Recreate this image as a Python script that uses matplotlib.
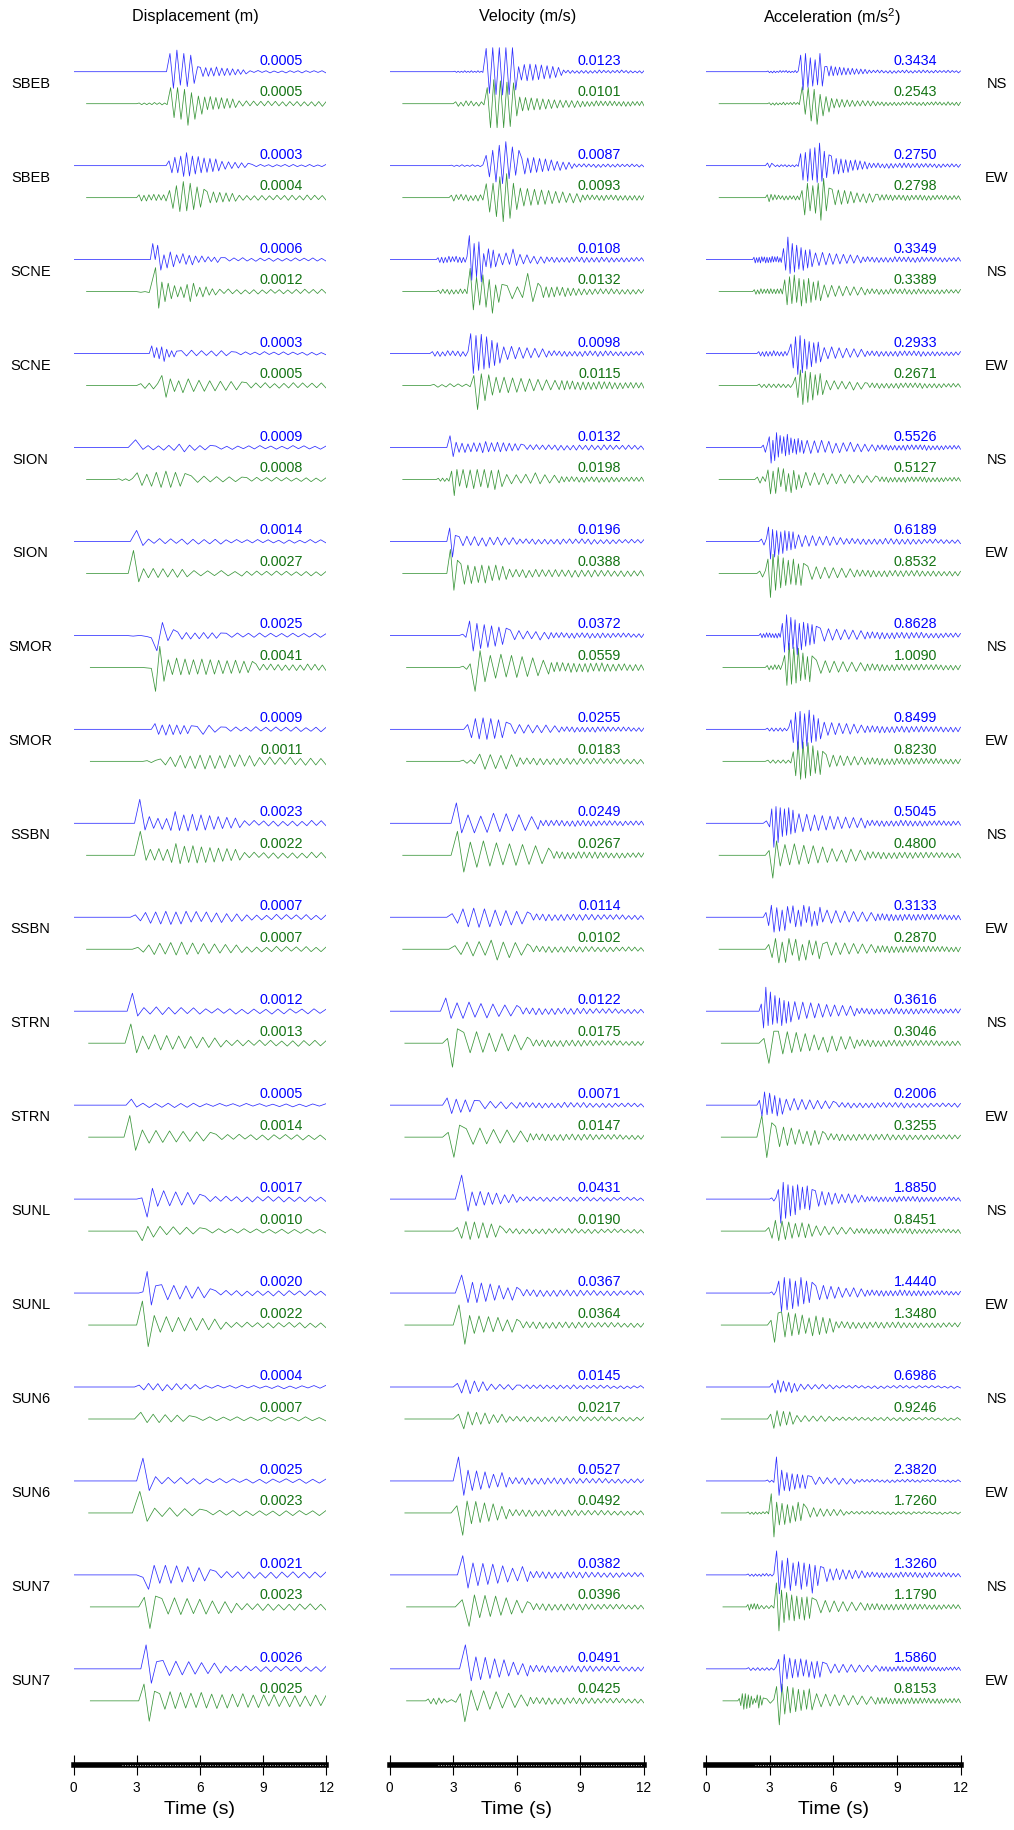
#!/usr/bin/env python3
"""
Observed (blue) vs synthetic (green) ground motion, 9 stations x 2 components.
Columns: displacement, velocity, acceleration. Peak value printed per trace.
"""
import numpy as np
import matplotlib.pyplot as plt

plt.rcParams['font.family'] = ['Liberation Sans', 'DejaVu Sans']
plt.rcParams['mathtext.default'] = 'regular'

STATIONS = ['SBEB', 'SBEB', 'SCNE', 'SCNE', 'SION', 'SION', 'SMOR', 'SMOR', 'SSBN',
            'SSBN', 'STRN', 'STRN', 'SUNL', 'SUNL', 'SUN6', 'SUN6', 'SUN7', 'SUN7']
COMPONENTS = ['NS', 'EW'] * 9
TITLES = ['Displacement (m)', 'Velocity (m/s)', 'Acceleration (m/s$^2$)']
TICKS = [0, 3, 6, 9, 12]

# synthetic traces start a little after t = 0
SYN_START = [0.62, 0.62, 0.62, 0.62, 0.62, 0.62, 0.8, 0.8, 0.62,
             0.62, 0.72, 0.72, 0.72, 0.72, 0.72, 0.72, 0.8, 0.8]

DISP_OBS_PEAK = [0.0005, 0.0003, 0.0006, 0.0003, 0.0009, 0.0014, 0.0025, 0.0009, 0.0023,
                 0.0007, 0.0012, 0.0005, 0.0017, 0.0020, 0.0004, 0.0025, 0.0021, 0.0026]
DISP_SYN_PEAK = [0.0005, 0.0004, 0.0012, 0.0005, 0.0008, 0.0027, 0.0041, 0.0011, 0.0022,
                 0.0007, 0.0013, 0.0014, 0.0010, 0.0022, 0.0007, 0.0023, 0.0023, 0.0025]
VEL_OBS_PEAK = [0.0123, 0.0087, 0.0108, 0.0098, 0.0132, 0.0196, 0.0372, 0.0255, 0.0249,
                0.0114, 0.0122, 0.0071, 0.0431, 0.0367, 0.0145, 0.0527, 0.0382, 0.0491]
VEL_SYN_PEAK = [0.0101, 0.0093, 0.0132, 0.0115, 0.0198, 0.0388, 0.0559, 0.0183, 0.0267,
                0.0102, 0.0175, 0.0147, 0.0190, 0.0364, 0.0217, 0.0492, 0.0396, 0.0425]
ACC_OBS_PEAK = [0.3434, 0.2750, 0.3349, 0.2933, 0.5526, 0.6189, 0.8628, 0.8499, 0.5045,
                0.3133, 0.3616, 0.2006, 1.8850, 1.4440, 0.6986, 2.3820, 1.3260, 1.5860]
ACC_SYN_PEAK = [0.2543, 0.2798, 0.3389, 0.2671, 0.5127, 0.8532, 1.0090, 0.8230, 0.4800,
                0.2870, 0.3046, 0.3255, 0.8451, 1.3480, 0.9246, 1.7260, 1.1790, 0.8153]

# Trace specs: "onset | t_end: extrema | t_end: extrema ...".
# Extrema are % of the station's plotted full scale; each segment's values are spread
# evenly up to t_end and alternate in sign, starting with the sign of the first value.
DISP_OBS = [
    "4.42 | 5.9: 76 69 90 56 76 62 69 49 21 | 8.2: 18 20 17 19 16 18 20 17 15 16 14 15 12 13 10 11 8 9 | 12: 4 3 5 3 4 5 3 4 3 5 4 3 4 5 4 3 4 3 4 5",
    "4.4 | 6.9: 20 30 35 30 40 45 54 43 40 35 38 30 32 28 30 25 28 22 | 8.3: 18 15 16 12 14 10 12 8 10 | 12: 5 4 5 3 4 5 4 3 5 4 5 4 3 4 5 4 3 4 5",
    "3.65 | 4.0: 67 0 60 | 7.0: -44 20 35 32 30 20 15 25 20 18 22 15 12 15 10 12 8 10 12 8 | 12: 8 6 7 5 8 6 5 7 6 5 6 7 5 6 5 6 7 5 6 5 7 6 5 6",
    "3.6 | 4.9: 32 17 25 22 28 33 18 15 12 14 10 | 7.5: 12 10 14 9 12 8 11 10 12 9 8 | 12: 6 5 7 4 6 5 8 4 6 5 7 5 6 4 5 7 5 6 4 5",
    "2.6 | 3.3: 32 8 | 6.5: 8 10 7 11 9 12 14 18 10 12 8 10 9 | 12: 6 7 5 8 6 5 7 6 8 5 6 7 5 6 8 5 7 6 5 7 6",
    "2.7 | 3.3: 46 17 | 7.0: 10 8 12 9 11 8 10 12 9 11 8 10 9 11 | 12: 7 6 8 5 7 6 8 5 7 6 5 8 6 7 5 6 8 6 7 6",
    "2.5 | 3.5: -3 0 5 | 3.7: -10 | 4.75: -64 54 22 24 | 7.0: 14 16 12 15 10 14 12 13 11 12 10 | 12: 9 8 10 7 9 8 10 7 9 6 8 7 9 6 8 7 9 8 7",
    "3.7 | 5.6: 24 21 18 24 20 22 18 20 16 18 15 | 7.0: 12 21 17 12 10 | 12: 9 8 10 7 9 8 11 7 9 8 10 7 9 8 10 9 7 8 9 10 8",
    "2.9 | 3.4: 100 28 | 7.9: 28 21 21 25 20 30 49 30 35 32 38 30 35 28 32 25 28 22 25 20 22 18 | 12: 11 9 12 8 10 11 9 12 8 10 9 11 8 10 12 9 11 10",
    "2.7 | 8.0: 10 15 20 25 22 28 25 30 22 28 25 20 24 18 22 20 18 22 15 18 14 16 | 12: 10 12 9 11 8 10 12 9 11 8 10 9 11 10 8 10 9",
    "2.55 | 3.05: 75 20 | 6.0: 15 12 18 14 16 12 15 10 14 12 | 12: 10 8 11 9 10 12 8 11 9 10 8 12 9 11 10 8 9 11 10 9 8",
    "2.5 | 3.0: 25 8 | 6.0: 8 10 7 9 8 10 7 9 8 7 | 12: 6 5 7 4 6 5 7 4 6 5 4 6 5 7 4 6 5 4 6",
    "3.0 | 3.25: 5 | 4.0: -75 45 30 | 6.0: 35 28 30 25 28 22 20 | 12: 12 10 11 9 12 8 10 11 9 12 10 8 11 9 10 12 8 10 9 11 10 9 8 10",
    "3.1 | 3.3: 5 | 3.9: 90 50 30 | 6.5: 35 28 32 25 30 22 26 20 18 | 12: 10 8 11 9 10 12 8 11 9 10 8 12 9 11 10 8 9 11 10 9 8 10",
    "2.9 | 6.0: 8 12 15 12 14 16 10 12 14 10 12 9 11 8 | 12: 6 5 7 4 6 5 7 4 6 5 4 6 5 7 4 6 5 4 6 5 7",
    "3.0 | 3.6: 95 40 | 6.0: 18 12 15 10 14 12 10 13 | 12: 9 7 10 8 9 6 8 9 7 10 8 6 9 7 8 10 7 9 8",
    "3.0 | 3.3: -10 | 4.1: -60 40 35 | 6.5: 40 35 38 30 35 28 30 25 22 | 12: 15 12 14 11 13 15 12 14 10 13 11 14 12 10 13 12 11 13 12 10 12",
    "3.2 | 3.95: 100 60 30 | 7.0: 35 28 32 25 30 22 26 20 24 18 | 12: 12 10 11 9 12 8 10 11 9 12 10 8 11 9 10 12 8 10 9 11 10",
]
DISP_SYN = [
    "3.0 | 4.45: 3 4 3 4 3 4 5 3 4 5 3 4 | 6.1: 67 58 67 65 60 90 46 65 32 44 | 7.7: 28 25 30 24 26 22 25 20 22 18 20 16 | 12: 12 10 12 9 11 8 10 9 11 8 10 9 8 10 9 8 9 10 8 9 8 10 9 11 8",
    "3.0 | 4.4: 12 14 10 14 12 10 14 12 13 10 12 14 | 6.2: 30 45 50 58 67 55 60 50 45 40 35 | 7.7: 25 22 24 20 22 18 20 16 18 15 | 12: 10 11 9 10 8 11 9 10 8 9 10 8 9 11 10 9 8 10 11 9 10 8 9 10",
    "3.0 | 3.6: -3 0 4 | 3.9: 100 | 6.75: -69 40 42 35 30 25 22 20 25 30 42 35 20 18 22 20 15 12 14 | 12: 10 8 11 9 8 10 7 9 8 10 7 8 9 7 8 9 7 8 9 8 10 7 9 8 10 7",
    "3.0 | 4.0: 8 12 10 14 8 | 5.2: 42 49 28 25 20 30 | 8.0: 28 25 22 24 20 22 18 20 17 18 15 | 12: 12 10 11 9 12 10 8 11 9 10 12 9 11 8 10 9 11 10",
    "2.0 | 2.8: 3 4 3 5 4 | 5.3: 28 25 22 28 30 33 35 33 30 28 25 | 8.0: 15 12 14 10 12 10 11 9 10 | 12: 8 7 9 6 8 7 9 6 8 7 6 8 7 9 6 8 7",
    "2.6 | 3.1: 96 35 | 5.4: 20 18 21 17 20 15 18 16 17 14 | 8.0: 12 10 11 9 12 10 8 11 | 12: 9 8 10 7 9 8 10 7 9 8 7 9 8 10 7 9 8",
    "2.8 | 3.7: 0 4 | 4.3: -100 88 58 | 8.5: 32 30 39 31 35 30 32 28 35 30 32 28 30 26 28 25 30 24 26 22 25 | 12: 14 12 13 10 14 11 12 13 10 12 11 13 10 12 14 11 13 12 10 13",
    "3.3 | 3.9: 3 5 4 | 8.6: 10 15 18 22 25 28 22 30 26 32 25 30 24 28 26 22 27 20 24 20 | 12: 16 14 18 13 16 12 17 14 12 16 13 15 12 14",
    "2.9 | 3.45: 100 21 | 7.9: 25 20 28 22 25 30 49 35 38 30 40 32 35 30 32 28 30 25 28 22 25 20 | 12: 12 10 13 9 11 12 10 13 9 11 10 12 9 11 13 10 12 11",
    "2.8 | 8.0: 8 12 18 22 25 20 28 24 30 22 26 20 24 18 22 16 20 15 18 14 | 12: 10 12 9 11 8 10 12 9 11 8 10 9 11 10 8 10 9",
    "2.45 | 3.0: 80 40 | 7.0: 30 25 35 28 32 25 30 22 28 20 25 18 22 16 | 12: 12 10 13 11 12 9 13 10 12 11 9 12 10 13 11 10 12 11 10",
    "2.4 | 2.95: 90 55 | 6.5: 30 25 28 22 26 20 24 18 22 16 20 | 12: 12 10 11 9 12 8 10 11 9 12 10 8 11 9 10 12 8 10 9 11",
    "3.0 | 3.8: -40 20 25 | 6.0: 20 15 18 14 16 12 14 | 12: 9 8 10 7 9 8 10 7 9 8 7 9 8 10 7 9 8 9 7 8",
    "3.0 | 3.55: 100 90 | 7.0: 40 30 35 28 32 25 30 22 28 20 25 18 | 12: 12 10 11 9 12 8 10 11 9 12 10 8 11 9 10 12 8 10 9 11",
    "2.9 | 3.5: 28 15 | 5.5: 20 15 18 12 16 10 14 | 12: 8 6 9 7 8 6 9 7 8 6 7 9 8 6 7 8 9 7 6 8",
    "2.8 | 3.5: 90 35 | 6.0: 20 15 22 14 18 12 16 | 12: 10 8 11 9 10 12 8 11 9 10 8 12 9 11 10 8 9 11 10",
    "3.1 | 3.9: 40 90 45 | 7.5: 35 30 38 32 35 28 32 30 25 28 22 25 | 12: 15 12 14 11 13 15 12 14 10 13 11 14 12 10 13 12 11 13",
    "3.1 | 3.85: 70 85 40 | 12: 30 35 38 32 35 30 32 28 35 30 28 32 26 30 28 25 30 27 24 28 25 22 26 24 20 25 22 24 20 22 24 20 22",
]
VEL_OBS = [
    "3.0 | 4.4: 2 3 2 3 2 3 4 3 2 3 4 3 2 3 4 3 2 3 | 5.95: 97 90 100 95 100 97 100 95 100 76 | 8.1: 21 35 30 38 32 36 30 33 28 30 25 28 22 24 18 16 | 12: 7 5 6 7 5 6 4 7 5 6 5 7 4 6 5 6 7 5 6 4 5 6 5 4 6 5 7 4 5 6 4 5 3 5 4 6 4",
    "2.8 | 4.4: 2 3 2 3 4 3 2 3 4 3 2 4 3 | 6.1: 43 47 64 68 85 75 100 54 78 40 64 | 8.6: 30 35 32 30 34 28 30 25 28 22 24 20 18 20 15 16 14 12 | 12: 8 6 7 5 8 6 7 5 6 8 5 7 6 5 7 6 5 6 7 5 6 4 6 5 7 4 5 6 4 5",
    "2.2 | 3.65: 8 12 10 14 9 12 14 10 12 8 14 12 10 13 9 11 12 | 5.0: 100 86 67 72 74 93 25 30 45 35 40 30 | 7.3: 25 22 28 20 44 25 22 18 20 15 14 18 12 15 | 12: 11 8 10 12 9 11 8 10 9 12 10 8 11 9 10 12 9 11 8 10 9 11 10 8 9 11 8 10 7 9 8 10 7 9 8 7 9 6 8 7",
    "1.9 | 3.7: 8 11 9 12 7 10 12 8 11 9 10 12 8 11 9 | 5.2: 83 83 75 70 80 65 70 60 55 50 45 40 | 7.4: 28 25 30 22 26 20 24 18 22 16 20 15 | 12: 11 9 12 8 10 11 9 12 8 10 9 11 8 12 10 9 11 8 10 12 9 10 11 8 10 9 7 9 8 10 7 9 8 6 8 7 9 6",
    "2.7 | 3.0: 49 38 | 6.2: 22 20 18 21 15 18 20 17 19 22 25 18 20 16 22 18 20 15 18 14 16 12 14 | 12: 10 8 11 9 12 8 10 9 11 8 10 12 9 11 8 10 9 11 10 8 9 11 10 9 8 10 11 9 10 8 9 7 9 8 10 7 9 8 7 9",
    "2.7 | 3.1: 56 65 25 | 6.0: 20 18 22 16 20 18 15 20 17 14 18 16 15 13 16 12 | 12: 10 8 11 9 10 12 8 10 9 11 8 10 9 12 10 8 11 9 10 8 11 9 10 12 8 10 7 9 8 10 7 9 8 6 8 7 9 6 8 7 8",
    "3.3 | 3.6: 5 8 | 5.5: 60 65 50 55 45 50 40 45 35 38 30 | 7.5: 22 18 20 15 18 14 16 19 13 15 | 12: 12 10 11 9 12 8 10 11 9 12 10 8 11 9 10 12 8 10 9 11 10 9 8 10 9 7 9 8 10 7 9 8 6 8 7 9 6",
    "3.5 | 5.5: 20 35 45 40 48 42 45 38 40 35 30 | 8.0: 22 18 20 16 19 15 17 14 18 13 15 12 | 12: 10 8 11 9 10 12 8 10 9 11 8 10 9 12 10 8 11 9 10 8 9 7 9 8 10 7 9 8 6 8 7 9 6",
    "2.9 | 3.4: 85 40 | 7.0: 35 40 30 38 42 35 40 32 36 30 28 25 | 12: 12 10 13 11 12 9 13 10 12 11 9 12 10 13 11 10 12 11 10 12 9 11 10 8 10 9 11 8 10 9 8 10 9 7 9 8 10 7 9 8",
    "2.7 | 6.5: 15 25 35 40 38 42 35 40 30 35 28 32 25 28 22 | 12: 15 12 14 11 13 15 12 14 10 13 11 14 12 10 13 12 11 13 12 10 12 11 10 9 11 8 10 9 11 8 10 9 7 9 8 10 7 9",
    "2.4 | 2.9: 55 30 | 6.0: 35 30 38 25 32 28 30 22 26 20 24 | 12: 15 12 14 11 13 15 12 14 10 13 11 14 12 10 13 12 11 13 12 10 12 11 10 9 11 8 10 9 11 8 10 9 7 9 8 10 7 9 8 7",
    "2.5 | 4.0: 30 35 25 30 22 28 20 | 6.0: 18 15 16 12 14 15 11 13 | 12: 11 9 12 8 10 11 9 12 8 10 9 11 8 10 12 9 11 8 10 9 11 10 8 9 7 9 8 10 7 9 8 6 8 7 9 6 8 7 6 8",
    "3.1 | 3.7: 100 50 | 6.0: 30 28 32 25 28 22 25 20 18 15 20 14 | 12: 9 7 10 8 9 6 8 9 7 10 8 6 9 7 8 10 7 9 8 7 9 8 6 8 7 9 6 8 7 5 7 6 8 5 7 6 5 7",
    "3.1 | 3.7: 75 40 | 6.0: 45 40 42 35 38 30 32 25 22 30 24 | 12: 14 12 15 11 13 15 12 14 10 13 11 14 12 10 13 12 11 13 12 10 11 9 11 10 8 10 9 11 8 10 9 7 9 8 10 7 9 8",
    "3.0 | 4.6: 15 25 30 28 25 20 22 15 | 6.0: 12 10 11 9 10 12 8 | 12: 8 6 9 7 8 6 9 7 8 6 7 9 8 6 7 8 9 7 6 8 7 5 7 6 8 5 7 6 4 6 5 7 4 6 5 4 6 5",
    "3.0 | 3.5: 100 60 | 5.5: 45 40 42 35 38 30 28 25 35 26 | 12: 15 12 14 11 13 15 12 14 10 13 11 14 12 10 13 12 11 13 12 10 12 11 10 9 11 8 10 9 11 8 10 9 7 9 8 10 7 9 8 7 9 8 6",
    "3.2 | 3.7: 80 55 | 6.5: 50 45 48 40 45 35 38 30 28 25 35 28 | 12: 14 12 15 11 13 15 12 14 10 13 11 14 12 10 13 12 11 13 12 10 11 9 11 10 8 10 9 11 8 10 9 7 9 8 10 7 9 8",
    "3.3 | 3.85: 100 50 | 6.5: 50 45 48 40 42 35 38 30 28 25 22 30 | 12: 14 12 15 11 13 15 12 14 10 13 11 14 12 10 13 12 11 13 12 10 12 11 10 9 11 8 10 9 11 8 10 9 7 9 8 10 7 9 8",
]
VEL_SYN = [
    "3.0 | 4.45: 8 11 6 10 12 8 11 9 6 10 8 5 | 6.0: 67 100 100 100 95 100 90 95 87 51 | 9.0: 28 30 26 28 24 26 22 25 20 22 18 20 16 18 15 16 14 15 13 16 12 14 | 12: 10 12 9 11 8 10 12 9 11 8 10 9 11 8 10 9 8 10 9 11 8 10 9 7 9 8 10 9",
    "2.8 | 4.4: 10 14 12 8 14 10 12 14 8 12 10 14 12 10 | 6.0: 58 60 60 79 87 100 100 86 60 50 | 9.0: 40 35 38 32 35 30 32 28 30 25 26 22 24 20 18 22 17 19 | 12: 11 10 12 9 11 8 10 11 9 12 10 8 11 9 10 12 8 10 9 11 8 10 9 11 8 10 9",
    "2.2 | 3.65: 6 8 10 7 9 11 8 10 7 9 11 8 10 9 | 5.3: 97 76 60 56 70 65 50 90 28 45 30 | 7.0: 25 30 20 25 76 42 35 | 12: 22 25 20 24 18 22 20 16 18 21 15 17 14 16 12 14 11 13 10 12 11 10 12 9 11 10 12 9 10 11 8 10 9 11 8 10 9 7 9",
    "1.9 | 3.8: 5 7 4 6 8 5 7 4 6 5 | 5.2: 42 100 49 63 45 40 35 30 | 8.0: 35 30 32 28 30 25 28 22 26 20 24 18 22 17 | 12: 21 18 20 15 19 16 14 18 15 17 14 16 13 15 17 14 16 13 15 14 12 14 11 13 12 10 13 11 12 10 12 11",
    "2.2 | 2.8: 5 7 6 8 5 7 | 3.3: 35 67 42 28 | 5.3: 42 35 40 38 42 30 42 35 38 42 40 30 | 8.0: 21 18 20 15 22 16 28 18 20 15 18 14 | 12: 12 10 11 9 12 8 10 11 9 12 10 8 11 9 10 12 8 10 9 11 10 9 8 10 9 7 9 8 10 7 9 8 10 8",
    "2.7 | 3.2: 100 70 55 | 5.5: 40 45 35 42 30 38 35 40 32 30 35 28 30 25 | 12: 18 15 17 14 16 18 13 15 17 14 16 12 15 14 16 13 15 12 14 16 13 15 14 12 13 15 14 12 13 11 13 12 10 12 11 13 10 12 11 10 12 11",
    "3.3 | 3.8: 5 8 15 | 4.5: -100 70 60 | 7.5: 50 45 55 40 50 42 45 38 40 35 30 28 | 12: 20 18 22 16 20 15 18 21 17 19 15 18 16 20 17 15 18 16 19 17 14 16 13 15 14 12 15 13 11 14 12 13 11 12",
    "3.3 | 4.0: 5 8 6 10 | 6.0: 30 33 28 30 25 32 28 22 | 12: 15 12 14 11 13 15 12 14 10 13 11 14 12 10 13 12 11 13 12 10 12 11 13 10 12 9 11 10 12 9 10 11 8 10 9 11 8 10",
    "2.9 | 3.5: 100 70 | 7.5: 55 50 60 45 52 40 48 42 45 38 40 35 30 | 12: 15 13 16 12 14 15 12 14 11 13 15 12 14 11 13 12 14 13 12 10 12 11 9 11 10 12 9 11 10 8 10 9 11 8 10",
    "2.8 | 6.5: 15 22 30 28 32 25 38 45 30 35 28 25 22 | 12: 13 11 14 10 12 13 11 14 9 12 10 13 11 10 12 11 10 12 11 9 11 10 8 10 9 11 8 10 9 7 9 8 10 7 9 8 7 9",
    "2.5 | 3.2: 20 100 60 | 6.5: 45 40 48 38 42 35 40 32 35 28 25 | 12: 15 12 14 11 13 15 12 14 10 13 11 14 12 10 13 12 11 13 12 10 12 11 10 9 11 8 10 9 11 8 10 9 7 9 8 10 7 9 8",
    "2.5 | 3.3: 20 84 50 | 6.5: 35 30 38 28 32 25 30 22 26 20 | 12: 15 12 14 11 13 15 12 14 10 13 11 14 12 10 13 12 11 13 12 10 12 11 10 9 11 8 10 9 11 8 10 9 7 9 8 10 7 9 8",
    "3.0 | 5.2: 15 30 40 35 38 30 35 28 30 25 22 | 12: 10 8 11 9 10 12 8 10 9 11 8 10 9 12 10 8 11 9 10 8 11 9 10 8 7 9 8 10 7 9 8 6 8 7 9 6 8 7 6 8 7 9 6 8",
    "3.0 | 3.55: 84 80 | 6.0: 40 35 38 30 35 28 32 25 22 30 24 | 12: 15 12 14 11 13 15 12 14 10 13 11 14 12 10 13 12 11 13 12 10 12 11 10 9 11 8 10 9 11 8 10 9 7 9 8 10 7 9 8",
    "3.0 | 3.5: 20 41 | 5.5: 30 25 28 22 25 20 18 15 20 14 | 12: 10 8 11 9 10 12 8 10 9 11 8 10 9 12 10 8 11 9 10 8 11 9 8 7 9 8 10 7 9 8 6 8 7 9 6 8 7 6 8",
    "2.9 | 3.45: 30 93 | 5.5: 50 45 48 40 42 35 38 30 28 25 | 12: 15 12 14 11 13 15 12 14 10 13 11 14 12 10 13 12 11 13 12 10 12 11 10 9 11 8 10 9 11 8 10 9 7 9 8 10 7 9 8 7 9 8",
    "3.1 | 3.75: 30 81 | 6.5: 50 45 48 40 45 35 38 30 28 25 22 | 12: 15 12 14 11 13 15 12 14 10 13 11 14 12 10 13 12 11 13 12 10 12 11 10 9 11 8 10 9 11 8 10 9 7 9 8 10 7 9",
    "1.7 | 2.7: 8 12 10 15 12 10 8 6 | 3.55: 5 6 30 87 | 6.5: 45 40 42 35 38 30 32 28 25 22 | 12: 15 12 14 11 13 15 12 14 10 13 11 14 12 10 13 12 11 13 12 10 12 11 10 9 11 8 10 9 11 8 10 9 7 9 8 10 7 9",
]
ACC_OBS = [
    "2.85 | 4.35: 3 4 2 5 3 4 2 3 5 3 4 2 5 4 3 4 2 3 5 4 3 | 5.6: 69 76 76 65 58 60 50 55 76 60 21 | 7.6: 22 18 24 17 20 15 19 14 17 13 15 12 14 11 12 10 11 9 10 8 | 12: 7 5 6 4 7 5 6 5 4 6 5 7 4 6 5 4 6 5 7 5 4 6 5 4 6 5 7 4 6 5 4 5 6 4 5 3 5 4 6 4 5 3 4 5 3",
    "2.8 | 3.1: 11 8 10 | 4.35: 3 4 3 5 4 3 4 5 3 4 3 5 4 3 | 5.8: 50 60 55 65 70 60 75 70 94 65 60 50 45 | 7.6: 40 35 30 35 28 30 25 28 22 20 24 18 20 15 17 14 | 12: 11 9 10 8 11 9 7 10 8 11 9 10 8 7 10 9 11 8 10 9 8 7 10 9 8 6 9 7 8 6 7 9 6 8 7 5 7 6 8 5 6 7 5",
    "2.2 | 3.55: 10 14 8 12 10 14 12 8 11 14 10 13 9 12 14 10 12 9 13 11 8 12 | 5.0: 46 44 94 58 67 52 60 40 50 45 40 35 42 30 | 7.3: 28 25 30 22 26 20 24 18 22 16 20 15 18 14 | 12: 11 9 12 8 10 11 9 12 8 10 9 11 8 10 12 9 11 8 10 9 11 10 8 12 9 10 11 8 9 7 10 8 9 7 8 10 7 9 8 6 8 7 9 6",
    "2.4 | 3.9: 8 10 7 12 9 11 8 10 12 9 8 10 7 11 9 8 10 | 5.4: 40 60 70 87 75 80 60 65 50 55 45 40 48 35 | 7.5: 25 22 28 20 24 18 22 16 20 15 18 13 | 12: 10 8 11 9 10 12 8 10 9 11 8 10 9 12 10 8 11 9 10 8 11 9 10 12 8 10 7 9 8 10 7 9 6 8 7 9 6 8 7 6 8",
    "2.6 | 2.9: 10 20 15 | 4.6: 45 65 30 55 62 40 50 25 45 35 55 30 40 22 35 28 38 20 30 25 | 8.0: 30 25 28 22 30 20 26 24 18 22 20 16 22 18 15 18 14 16 12 15 | 12: 10 8 11 9 10 12 8 10 9 11 8 10 9 12 10 8 11 9 10 8 11 9 10 12 8 10 7 9 8 10 7 9 8 6 8 7 9 6 8 7",
    "2.5 | 2.85: 10 15 12 | 4.2: 60 73 50 65 45 55 40 50 45 38 42 35 40 30 | 6.5: 28 22 25 20 24 18 20 15 22 17 19 14 16 12 | 12: 12 10 13 9 11 12 10 13 9 11 10 12 9 11 13 10 12 11 10 12 9 11 10 12 9 11 8 10 9 7 9 8 10 7 8 9 7 8 6 8 7 9",
    "2.5 | 3.5: 8 10 7 9 11 8 10 9 7 10 8 11 9 8 | 5.2: 50 70 86 60 75 55 65 80 50 60 55 45 50 40 45 35 38 | 7.5: 30 24 28 20 26 18 24 16 22 17 20 15 | 12: 14 12 15 11 13 15 12 14 10 13 11 14 12 10 13 12 11 13 12 10 12 11 13 10 9 11 8 10 9 11 8 9 10 7 9 8 10 7 8",
    "2.8 | 3.9: 5 7 6 8 5 7 6 8 5 6 7 | 5.4: 40 55 70 84 75 80 65 70 80 55 60 50 45 40 | 7.5: 30 25 28 22 26 18 24 20 22 16 18 14 | 12: 14 12 15 11 13 15 12 14 10 13 11 14 12 10 13 12 11 13 12 10 12 11 13 10 12 9 11 10 12 9 10 11 8 10 9 11 8 10 9",
    "2.7 | 3.0: 10 15 | 4.2: 60 100 70 80 65 55 60 50 65 45 55 40 | 7.5: 40 35 38 32 35 30 32 28 30 25 28 22 26 20 24 18 22 20 | 12: 12 10 13 9 11 12 10 13 9 11 10 12 9 11 13 10 12 11 10 12 9 11 10 12 9 11 10 8 10 9 11 8 10 9 8 10 9 7 9 8",
    "2.7 | 5.5: 20 35 50 62 40 58 30 55 45 25 48 40 30 38 50 22 45 38 25 35 42 20 | 8.0: 30 25 28 22 26 20 24 18 22 17 20 15 | 12: 14 12 15 11 13 15 12 14 10 13 11 14 12 10 13 12 11 13 12 10 12 11 13 10 12 9 11 10 12 9 10 11 8 10 9 11 8 10",
    "2.5 | 4.0: 30 70 100 60 80 55 65 50 55 60 45 50 40 45 | 7.0: 40 35 38 30 35 28 32 25 28 22 26 20 24 18 22 20 | 12: 12 10 13 9 11 12 10 13 9 11 10 12 9 11 13 10 12 11 10 12 9 11 10 12 9 11 10 8 10 9 11 8 10 9 8 10 9 7 9 8 10 8 9",
    "2.4 | 3.6: 20 45 55 40 50 35 40 45 30 38 | 6.0: 25 22 28 20 24 18 22 16 20 15 18 14 16 | 12: 10 8 11 9 10 12 8 10 9 11 8 10 9 12 10 8 11 9 10 8 11 9 10 12 8 10 7 9 8 10 7 9 8 6 8 7 9 6 8 7 8 9 7",
    "3.0 | 3.3: 5 8 6 | 5.0: 40 100 70 80 60 70 55 65 60 45 50 40 55 45 40 | 7.5: 35 30 32 25 28 22 25 18 20 15 22 17 18 14 16 12 | 12: 10 8 11 9 10 12 8 10 9 11 8 10 9 12 10 8 11 9 10 8 11 9 10 12 8 10 7 9 8 10 7 9 8 6 8 7 9 6 8 7 6 8",
    "3.0 | 3.3: 5 8 6 | 5.0: 50 77 65 70 60 65 50 55 65 45 50 40 45 | 7.5: 30 28 32 25 28 22 25 18 20 15 22 17 18 14 | 12: 12 10 13 9 11 12 10 13 9 11 10 12 9 11 13 10 12 11 10 12 9 11 10 12 9 11 8 10 9 7 9 8 10 7 8 9 7 8 6 8 7",
    "3.0 | 4.3: 15 25 29 22 25 18 20 24 15 18 | 6.0: 12 10 11 9 10 8 11 7 9 8 | 12: 6 5 7 4 6 5 7 4 6 5 4 6 5 7 4 6 5 4 6 5 7 4 6 5 4 5 6 3 5 4 6 3 5 4 3 5 4 6 3 4",
    "2.8 | 3.2: 4 5 3 6 | 4.8: 100 60 45 40 35 42 30 35 28 30 25 32 22 | 7.0: 18 15 16 12 14 10 12 15 11 13 9 11 | 12: 6 5 7 4 6 5 7 4 6 5 4 6 5 7 4 6 5 4 6 5 7 4 6 5 4 6 5 3 5 4 6 3 5 4 3 5 4 6 3 4 5 3",
    "1.9 | 3.2: 4 5 3 6 4 5 3 6 5 4 6 5 3 5 4 | 5.4: 100 79 60 55 70 65 50 45 55 60 50 48 45 76 40 45 35 | 7.5: 30 28 25 22 26 20 22 18 20 16 19 14 17 12 | 12: 11 9 12 8 10 11 9 12 8 10 9 11 8 10 12 9 11 8 10 9 11 10 8 12 9 10 11 8 9 7 9 8 10 7 8 9 7 8 6 8",
    "1.9 | 3.3: 5 7 4 6 5 7 4 6 5 6 4 5 7 | 5.5: 40 97 60 42 45 38 40 35 42 30 38 35 30 40 32 35 28 | 8.2: 21 18 20 16 19 15 18 14 16 12 15 11 14 10 | 12: 10 8 9 11 8 10 7 9 11 8 10 9 7 10 8 9 11 8 10 9 8 10 9 7 9 8 6 8 7 9 6 8 7 5 7 6 8 5 7 6",
]
ACC_SYN = [
    "2.9 | 4.4: 4 5 3 6 4 5 3 4 6 5 4 3 5 4 6 3 5 4 | 5.8: 71 44 67 72 60 86 39 51 30 35 | 8.0: 22 18 20 15 18 14 16 12 14 11 12 10 13 9 12 10 11 9 | 12: 8 6 7 9 6 8 5 7 6 8 5 7 6 5 8 6 7 5 6 8 5 7 6 8 6 5 7 6 8 5 7 6 5 7 8 6 5 7 6 8 6",
    "2.8 | 4.4: 12 17 14 10 12 8 10 6 8 10 7 9 8 6 8 10 7 9 | 5.8: 30 72 60 55 50 65 60 94 80 55 40 | 8.0: 35 30 32 28 30 25 26 22 20 18 16 22 17 19 14 | 12: 14 11 12 10 13 9 11 12 10 8 11 9 10 12 9 11 10 8 10 9 11 10 9 11 8 10 9 8 10 7 9 8 10 9 7 8 9 7 8 9",
    "2.2 | 3.6: 8 11 7 10 12 8 10 7 11 9 12 8 10 9 11 8 12 10 | 5.4: 49 55 62 50 69 45 55 60 50 48 55 45 40 35 45 38 | 7.5: 28 24 26 20 24 18 22 16 20 15 18 14 | 12: 11 9 12 8 10 12 9 11 8 10 12 9 11 8 10 9 12 10 8 11 9 10 11 8 9 10 8 9 7 9 8 10 7 8 9 7 8 6 8 7 9",
    "2.4 | 4.1: 6 8 5 9 7 8 6 9 7 8 6 9 5 8 7 | 5.5: 35 50 65 79 60 70 55 60 45 40 50 38 | 7.5: 22 18 20 15 18 14 16 19 13 15 12 | 12: 10 8 11 9 10 12 8 10 9 11 8 10 9 12 10 8 11 9 10 8 11 9 10 12 8 10 7 9 8 10 7 9 8 6 8 7 9 6 8 7",
    "2.3 | 2.8: 10 15 12 8 | 4.5: 40 60 35 58 50 30 45 50 25 55 38 42 20 35 | 8.0: 30 25 28 22 26 20 24 18 22 16 20 15 18 14 16 12 15 | 12: 10 8 11 9 10 12 8 10 9 11 8 10 9 12 10 8 11 9 10 8 11 9 10 12 8 10 7 9 8 10 7 9 8 6 8 7 9 6 8 7",
    "2.4 | 2.8: 10 15 12 | 4.6: 60 100 80 70 75 60 65 50 55 45 60 48 40 50 42 | 7.0: 30 25 28 22 26 20 24 18 22 17 20 15 | 12: 15 12 14 11 13 15 12 14 10 13 11 14 12 10 13 12 11 13 12 10 12 11 13 12 10 11 9 11 10 12 9 10 8 10 9 11 8 10 9",
    "2.8 | 3.6: 8 10 7 9 11 8 10 9 12 | 5.0: 50 75 100 70 85 65 80 55 60 50 45 60 48 | 7.5: 30 25 28 22 26 20 24 18 22 17 20 15 | 12: 14 12 15 11 13 15 12 14 10 13 11 14 12 10 13 12 11 13 12 10 12 11 13 10 12 9 11 10 12 9 10 11 8 10 9 11 8 10 9",
    "2.8 | 4.0: 5 7 6 8 5 7 6 8 5 7 | 5.5: 40 60 82 75 80 70 78 60 65 50 45 55 42 | 7.5: 28 24 26 20 24 18 22 16 20 15 18 14 | 12: 14 12 15 11 13 15 12 14 10 13 11 14 12 10 13 12 11 13 12 10 12 11 13 10 12 9 11 10 12 9 10 11 8 10 9 11 8 10 9",
    "2.8 | 3.5: 20 95 60 45 | 7.5: 45 40 48 38 42 35 40 32 35 30 28 25 22 30 26 24 22 20 | 12: 14 12 15 11 13 15 12 14 10 13 11 14 12 10 13 12 11 13 12 10 12 11 13 10 12 9 11 10 12 9 10 11 8 10 9 11",
    "2.8 | 5.5: 20 35 45 57 30 55 45 25 42 48 20 45 38 24 35 40 22 | 8.0: 30 25 28 22 26 20 24 18 22 17 20 15 | 12: 14 12 15 11 13 15 12 14 10 13 11 14 12 10 13 12 11 13 12 10 12 11 13 10 12 9 11 10 12 9 10 11 8 10 9 11 8",
    "2.5 | 3.2: 20 84 50 | 7.0: 50 45 48 40 45 35 40 32 35 28 25 38 30 32 28 25 28 22 | 12: 14 12 15 11 13 15 12 14 10 13 11 14 12 10 13 12 11 13 12 10 12 11 13 10 12 9 11 10 12 9 10 11 8 10 9 11 8 10 9 8",
    "2.4 | 3.1: 90 85 60 | 5.5: 45 40 42 35 38 30 32 28 25 35 28 30 24 | 12: 14 12 15 11 13 15 12 14 10 13 11 14 12 10 13 12 11 13 12 10 12 11 13 12 10 11 9 11 10 12 9 10 8 10 9 11 8 10 9 8 10 7 9 8 10 8 9 7 8",
    "2.8 | 5.0: 15 30 45 40 42 35 38 30 32 25 35 28 30 22 | 7.0: 22 18 20 15 18 14 16 12 15 11 | 12: 10 8 11 9 10 12 8 10 9 11 8 10 9 12 10 8 11 9 10 8 11 9 10 12 8 10 7 9 8 10 7 9 8 6 8 7 9 6 8 7 6 8 7 9",
    "2.9 | 3.4: 20 72 50 | 6.0: 55 50 52 45 48 40 42 35 30 45 38 40 32 35 28 30 | 12: 14 12 15 11 13 15 12 14 10 13 11 14 12 10 13 12 11 13 12 10 12 11 13 12 10 11 9 11 10 12 9 10 8 10 9 11 8 10 9 8 10 7 9 8 10",
    "2.9 | 4.1: 20 39 35 30 32 25 30 22 | 6.0: 15 12 14 10 12 9 13 10 11 8 | 12: 7 5 8 6 7 5 8 6 7 5 6 8 7 5 6 7 8 6 5 7 6 8 5 7 6 4 6 5 7 4 6 5 4 6 5 7 4 5 6 4",
    "1.9 | 2.95: 4 5 3 6 4 5 3 4 5 3 6 4 | 4.6: 80 100 45 50 40 48 35 42 30 35 45 32 38 | 6.5: 20 18 22 15 18 14 16 12 15 11 14 10 | 12: 6 5 7 4 6 5 7 4 6 5 8 4 6 5 4 6 5 7 4 6 5 4 6 5 4 6 5 3 5 4 6 3 5 4 3 5 4 6 3 4 5 3 4 5 3",
    "1.9 | 2.5: 10 14 12 8 14 10 12 9 | 3.2: 6 8 5 7 6 5 | 5.0: 100 100 70 65 60 55 50 58 45 50 40 55 42 48 38 | 7.5: 28 25 27 22 25 20 22 18 20 15 18 14 | 12: 14 12 13 11 14 12 10 13 11 12 10 13 11 12 10 11 13 12 10 11 12 10 11 9 11 10 8 10 9 11 8 10 9 7 9 8 10 7 9 8",
    "1.5 | 2.7: 10 20 30 35 30 32 25 28 20 15 10 8 25 30 22 18 12 | 3.2: 8 10 6 | 5.0: 60 100 70 55 60 50 55 45 48 40 45 35 50 38 | 8.0: 30 25 28 22 26 20 24 18 22 16 20 15 18 14 | 12: 14 12 13 11 14 12 10 13 11 12 10 13 11 12 10 11 13 12 10 11 12 10 11 9 11 10 8 10 9 11 8 10 9 7 9 8 10 7 9 8",
]

# page geometry (pixels of the 1014 x 1830 output)
W, H = 1014, 1830
COL_PX = [(73.5, 326.0), (389.6, 644.0), (706.0, 960.5)]
TITLE_X = [195, 528, 832]
AX_BOTTOM = 1765.0
ROW0, ROW_STEP, SYN_OFF, FULL = 71.7, 93.95, 32.0, 24.0
BLUE, GREEN = '#2e2eff', '#3a963a'


def parse_trace(spec, t_start):
    parts = [p.strip() for p in spec.split('|')]
    t_prev = float(parts[0])
    ts, vs = [t_start, t_prev], [0.0, 0.0]
    for seg in parts[1:]:
        t_end, vals = seg.split(':')
        t_end = float(t_end)
        vals = [float(v) for v in vals.split()]
        sign = -1.0 if vals[0] < 0 else 1.0
        n = len(vals)
        for i, v in enumerate(vals):
            ts.append(t_prev + (i + 1) * (t_end - t_prev) / n)
            vs.append(sign * abs(v))
            sign = -sign
        t_prev = t_end
    return np.array(ts), np.array(vs)


fig = plt.figure(figsize=(W / 100, H / 100), dpi=100)

columns = [
    (DISP_OBS, DISP_SYN, DISP_OBS_PEAK, DISP_SYN_PEAK),
    (VEL_OBS, VEL_SYN, VEL_OBS_PEAK, VEL_SYN_PEAK),
    (ACC_OBS, ACC_SYN, ACC_OBS_PEAK, ACC_SYN_PEAK),
]

for c, (obs, syn, obs_pk, syn_pk) in enumerate(columns):
    x0, x1 = COL_PX[c]
    ax = fig.add_axes([x0 / W, 1 - AX_BOTTOM / H, (x1 - x0) / W, AX_BOTTOM / H])
    ax.set_xlim(0, 12)
    ax.set_ylim(AX_BOTTOM, 0)
    for r in range(len(STATIONS)):
        base = ROW0 + r * ROW_STEP
        t, v = parse_trace(syn[r], SYN_START[r])
        ax.plot(t, base + SYN_OFF - v / 100 * FULL, color=GREEN, lw=0.55)
        t, v = parse_trace(obs[r], 0.0)
        ax.plot(t, base - v / 100 * FULL, color=BLUE, lw=0.55)
        ax.text(10.9, base - 11, f'{obs_pk[r]:.4f}', color='blue',
                ha='right', va='center', fontsize=10.3)
        ax.text(10.9, base + SYN_OFF - 11.5, f'{syn_pk[r]:.4f}', color='#137313',
                ha='right', va='center', fontsize=10.3)
    for s in ['top', 'left', 'right']:
        ax.spines[s].set_visible(False)
    ax.spines['bottom'].set_linewidth(4)
    ax.hlines(AX_BOTTOM, 2.3, 11.95, colors='white', linestyles=(0, (1, 2)),
              lw=0.6, zorder=5, clip_on=False)
    ax.set_yticks([])
    ax.set_xticks(TICKS)
    ax.tick_params(axis='x', direction='inout', length=15, width=0.8,
                   labelsize=9.8, pad=4)
    ax.set_xlabel('Time (s)', fontsize=14, labelpad=4)
    fig.text(TITLE_X[c] / W, 1 - 17 / H, TITLES[c], ha='center', va='center',
             fontsize=11.6)

for r in range(len(STATIONS)):
    y = 1 - (ROW0 + r * ROW_STEP + 12) / H
    fig.text(30.5 / W, y, STATIONS[r], ha='center', va='center', fontsize=10.5)
    fig.text(997 / W, y, COMPONENTS[r], ha='center', va='center', fontsize=10.5)

fig.savefig('out.png', dpi=100)
